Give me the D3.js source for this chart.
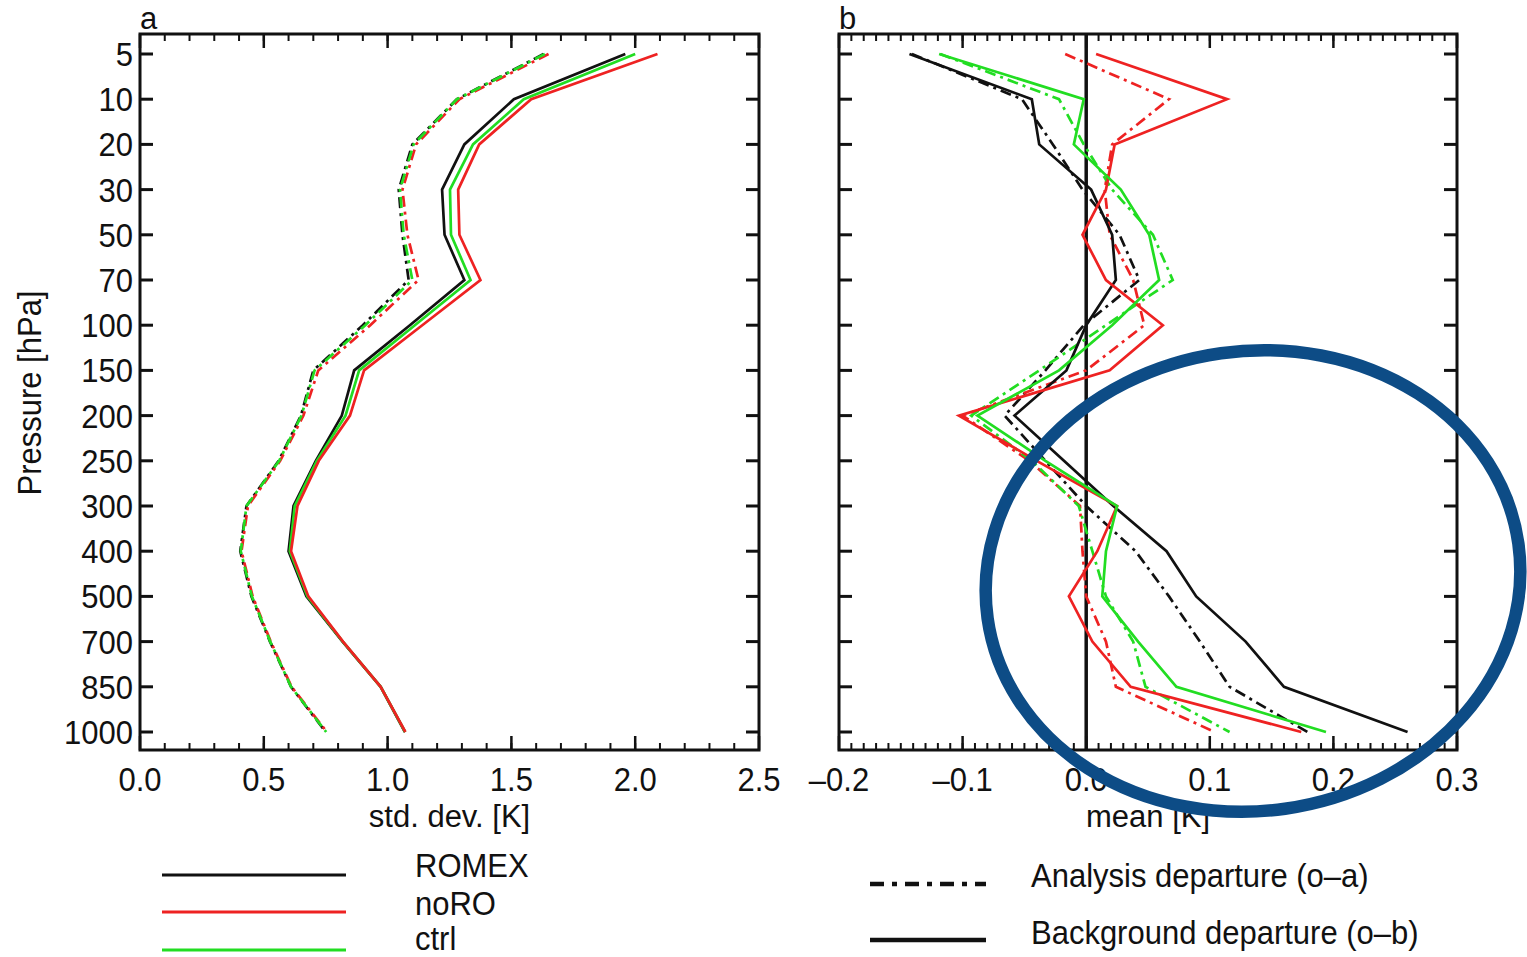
<!DOCTYPE html>
<html>
<head>
<meta charset="utf-8">
<script src="https://cdn.jsdelivr.net/npm/d3@7"></script>
<style>
html,body{margin:0;padding:0;background:#fff;}
svg text{font-family:"Liberation Sans",Arial,Helvetica,sans-serif;fill:#111;}
</style>
</head>
<body>
<svg id="chart" width="1527" height="957"></svg>
<script>
// ---------- data ----------
const levels = [5,10,20,30,50,70,100,150,200,250,300,400,500,700,850,1000];
const levelLabels = ["5","10","20","30","50","70","100","150","200","250","300","400","500","700","850","1000"];

// panel a: standard deviation [K]
const romexObStd = [1.96,1.51,1.31,1.22,1.23,1.31,1.09,0.865,0.815,0.71,0.62,0.60,0.672,0.818,0.972,1.07];
const noroObStd  = [2.09,1.58,1.37,1.285,1.29,1.375,1.14,0.905,0.848,0.722,0.636,0.61,0.68,0.82,0.972,1.072];
const ctrlObStd  = [2.00,1.55,1.345,1.252,1.256,1.335,1.11,0.885,0.83,0.714,0.625,0.605,0.676,0.819,0.972,1.071];
const romexOaStd = [1.63,1.28,1.10,1.045,1.06,1.085,0.90,0.70,0.65,0.56,0.43,0.405,0.45,0.525,0.61,0.75];
const noroOaStd  = [1.65,1.29,1.115,1.06,1.08,1.125,0.93,0.72,0.66,0.566,0.436,0.41,0.455,0.528,0.612,0.755];
const ctrlOaStd  = [1.635,1.28,1.105,1.05,1.065,1.10,0.91,0.705,0.652,0.562,0.43,0.407,0.452,0.526,0.61,0.752];

// panel b: mean [K]
const romexObMean = [-0.143,-0.044,-0.038,0.004,0.021,0.024,0.0,-0.016,-0.058,-0.018,0.022,0.065,0.089,0.129,0.16,0.26];
const noroObMean  = [0.008,0.114,0.023,0.016,-0.003,0.016,0.062,0.019,-0.103,-0.04,0.025,0.009,-0.014,0.005,0.036,0.174];
const ctrlObMean  = [-0.119,-0.002,-0.01,0.028,0.051,0.059,0.021,-0.022,-0.088,-0.033,0.025,0.016,0.013,0.042,0.073,0.194];
const romexOaMean = [-0.141,-0.052,-0.027,-0.003,0.027,0.043,-0.002,-0.033,-0.066,-0.033,0.0,0.040,0.067,0.092,0.116,0.179];
const noroOaMean  = [-0.017,0.067,0.021,0.015,0.019,0.038,0.047,0.0,-0.1,-0.046,-0.005,-0.003,0.0,0.016,0.024,0.104];
const ctrlOaMean  = [-0.118,-0.022,-0.002,0.021,0.054,0.07,0.016,-0.038,-0.093,-0.044,-0.006,0.005,0.016,0.038,0.048,0.116];

const xTickLabelsA = ["0.0","0.5","1.0","1.5","2.0","2.5"];
const xTickValuesA = [0,0.5,1.0,1.5,2.0,2.5];
const xTickLabelsB = ["\u20130.2","\u20130.1","0.0","0.1","0.2","0.3"];
const xTickValuesB = [-0.2,-0.1,0.0,0.1,0.2,0.3];

const experiments = ["ROMEX","noRO","ctrl"];
const expColors = ["#111111","#ee2222","#22dd22"];
const departureLabels = ["Analysis departure (o\u2013a)","Background departure (o\u2013b)"];

// ---------- layout ----------
const svg = d3.select("#chart");
const yTop = 34, yBottom = 750;
const y = d3.scalePoint().domain(levels).range([54, 732]);
const xA = d3.scaleLinear().domain([0, 2.5]).range([140, 759]);
const xB = d3.scaleLinear().domain([-0.2, 0.3]).range([839, 1457]);
const DASHDOT = "11,5,3,5";
const FS = 31, SY = 1.08;

function txt(parent, x, yy, str, anchor, rot, sy) {
  const s = sy === undefined ? SY : sy;
  return parent.append("text")
    .attr("transform", "translate(" + x + "," + yy + ")" + (rot ? " rotate(" + rot + ")" : "") + " scale(1," + s + ")")
    .attr("text-anchor", anchor || "start").attr("font-size", FS).text(str);
}

function panel(x, majors, labels, minorCount, showY, letter, xlabel) {
  const g = svg.append("g");
  const [x0, x1] = x.range();
  const minors = x.ticks(minorCount);
  g.selectAll(".mnb").data(minors).join("line")
    .attr("x1", d => x(d)).attr("x2", d => x(d))
    .attr("y1", yBottom).attr("y2", yBottom - 7)
    .attr("stroke", "#111").attr("stroke-width", 2);
  g.selectAll(".mnt").data(minors).join("line")
    .attr("x1", d => x(d)).attr("x2", d => x(d))
    .attr("y1", yTop).attr("y2", yTop + 7)
    .attr("stroke", "#111").attr("stroke-width", 2);
  g.selectAll(".mjb").data(majors).join("line")
    .attr("x1", d => x(d)).attr("x2", d => x(d))
    .attr("y1", yBottom).attr("y2", yBottom - 14)
    .attr("stroke", "#111").attr("stroke-width", 2.5);
  g.selectAll(".mjt").data(majors).join("line")
    .attr("x1", d => x(d)).attr("x2", d => x(d))
    .attr("y1", yTop).attr("y2", yTop + 14)
    .attr("stroke", "#111").attr("stroke-width", 2.5);
  g.selectAll(".yl").data(levels).join("line")
    .attr("x1", x0).attr("x2", x0 + 13)
    .attr("y1", d => y(d)).attr("y2", d => y(d))
    .attr("stroke", "#111").attr("stroke-width", 3);
  g.selectAll(".yr").data(levels).join("line")
    .attr("x1", x1).attr("x2", x1 - 13)
    .attr("y1", d => y(d)).attr("y2", d => y(d))
    .attr("stroke", "#111").attr("stroke-width", 3);
  g.append("rect").attr("x", x0).attr("y", yTop)
    .attr("width", x1 - x0).attr("height", yBottom - yTop)
    .attr("fill", "none").attr("stroke", "#111").attr("stroke-width", 3);
  majors.forEach((d, i) => txt(g, x(d), 791, labels[i], "middle"));
  txt(g, (x0 + x1) / 2, 827, xlabel, "middle", 0, 1.0);
  txt(g, x0, 29, letter, "start", 0, 1.0);
  if (showY) {
    levels.forEach((d, i) => txt(g, x0 - 7, y(d) + 12, levelLabels[i], "end"));
  }
  return g;
}

const gA = panel(xA, xTickValuesA, xTickLabelsA, 25, true, "a", "std. dev. [K]");
const gB = panel(xB, xTickValuesB, xTickLabelsB, 50, false, "b", "mean [K]");

txt(svg, 41, 393, "Pressure [hPa]", "middle", -90);

gB.append("line")
  .attr("x1", xB(0)).attr("x2", xB(0)).attr("y1", yTop).attr("y2", yBottom)
  .attr("stroke", "#111").attr("stroke-width", 3.5);

function drawLine(g, x, vals, color, dashed) {
  const line = d3.line().x(d => x(d[0])).y(d => y(d[1]));
  g.append("path")
    .datum(vals.map((v, i) => [v, levels[i]]))
    .attr("d", line)
    .attr("fill", "none").attr("stroke", color)
    .attr("stroke-width", 2.7)
    .attr("stroke-linejoin", "miter")
    .attr("stroke-dasharray", dashed ? DASHDOT : null);
}

const stdSeries = [
  [romexOaStd, 0, true],[noroOaStd, 1, true],[ctrlOaStd, 2, true],
  [romexObStd, 0, false],[ctrlObStd, 2, false],[noroObStd, 1, false]
];
stdSeries.forEach(s => drawLine(gA, xA, s[0], expColors[s[1]], s[2]));

const meanSeries = [
  [romexOaMean, 0, true],[noroOaMean, 1, true],[ctrlOaMean, 2, true],
  [romexObMean, 0, false],[noroObMean, 1, false],[ctrlObMean, 2, false]
];
meanSeries.forEach(s => drawLine(gB, xB, s[0], expColors[s[1]], s[2]));

// ---------- legends ----------
const legY = [875, 912, 950];
const legTextY = [877, 915, 950];
experiments.forEach((name, i) => {
  svg.append("line").attr("x1", 162).attr("x2", 346)
    .attr("y1", legY[i]).attr("y2", legY[i])
    .attr("stroke", expColors[i]).attr("stroke-width", 3);
  txt(svg, 415, legTextY[i], name, "start");
});
svg.append("line").attr("x1", 870).attr("x2", 986).attr("y1", 884).attr("y2", 884)
  .attr("stroke", "#111").attr("stroke-width", 4.5).attr("stroke-dasharray", "14,8,5,8");
svg.append("line").attr("x1", 870).attr("x2", 986).attr("y1", 940).attr("y2", 940)
  .attr("stroke", "#111").attr("stroke-width", 4.5);
txt(svg, 1031, 887, departureLabels[0], "start");
txt(svg, 1031, 944, departureLabels[1], "start");

// ---------- annotation ellipse ----------
svg.append("ellipse")
  .attr("cx", 1253).attr("cy", 581).attr("rx", 268).attr("ry", 230)
  .attr("transform", "rotate(-8,1253,581)")
  .attr("fill", "none").attr("stroke", "#0d4c86").attr("stroke-width", 12.5);
</script>
</body>
</html>
